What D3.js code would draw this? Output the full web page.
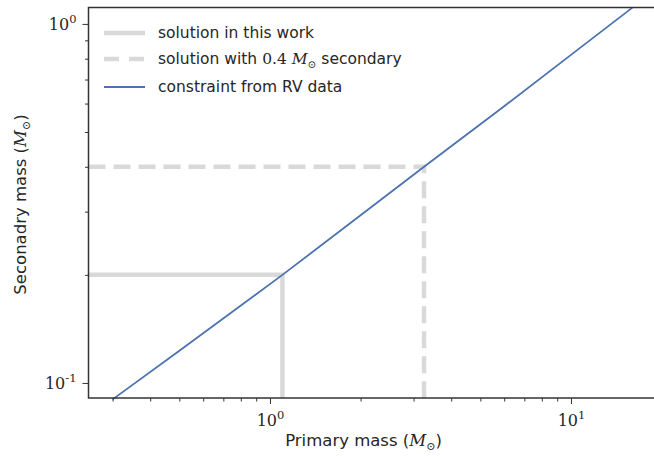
<!DOCTYPE html>
<html>
<head>
<meta charset="utf-8">
<script src="https://cdn.jsdelivr.net/npm/d3@7"></script>
<style>
  body { margin: 0; background: #fff; }
  svg { display: block; }
  .sans { font-family: "DejaVu Sans", sans-serif; }
  .math { font-family: "DejaVu Serif", "Liberation Serif", serif; }
</style>
</head>
<body>
<svg width="654" height="456"></svg>
<script>
// data
const rvPrimary   = [0.3, 0.5, 1.1, 2.0, 3.25, 6.0, 10.0, 16.0];
const rvSecondary = [0.09, 0.123, 0.2, 0.293, 0.4, 0.59, 0.82, 1.11];
const solThisWork = { primary: 1.1, secondary: 0.2 };
const solAlt      = { primary: 3.25, secondary: 0.4 };
const xDomain = [0.2495, 19.76];
const yDomain = [0.0908, 1.111];
const xMajor = [1, 10];
const yMajor = [0.1, 1];
const legendLabels = ["solution in this work", "solution with", "constraint from RV data"];

const svg = d3.select("svg");
const margin = { top: 7.5, right: -6, bottom: 58, left: 88.5 };
const width = +svg.attr("width") - margin.left - margin.right;
const height = +svg.attr("height") - margin.top - margin.bottom;

const x = d3.scaleLog().domain(xDomain).range([0, width]);
const y = d3.scaleLog().domain(yDomain).range([height, 0]);

const g = svg.append("g").attr("transform", `translate(${margin.left},${margin.top})`);

const gray = "#d9d9d9";
const blue = "#4c72b0";

// solution lines
const plot = g.append("g");
function drawSolution(s, dashed) {
  const pts = [[x.invert(0), s.secondary], [s.primary, s.secondary], [s.primary, y.invert(height)]];
  plot.append("path")
    .attr("d", d3.line().x(d => x(d[0])).y(d => y(d[1]))(pts))
    .attr("fill", "none")
    .attr("stroke", gray)
    .attr("stroke-width", 4.5)
    .attr("stroke-dasharray", dashed ? "17,8" : null);
}
drawSolution(solThisWork, false);
drawSolution(solAlt, true);

// RV constraint
plot.append("path")
  .datum(d3.zip(rvPrimary, rvSecondary))
  .attr("d", d3.line().x(d => x(d[0])).y(d => y(d[1])))
  .attr("fill", "none")
  .attr("stroke", blue)
  .attr("stroke-width", 1.8);

// axes
function minorTicks(scale) {
  const [a, b] = scale.domain();
  const out = [];
  for (let e = Math.floor(Math.log10(a)); e <= Math.ceil(Math.log10(b)); e++) {
    for (let k = 2; k <= 9; k++) {
      const v = k * Math.pow(10, e);
      if (v >= a && v <= b) out.push(v);
    }
  }
  return out;
}
function supLabel(sel) {
  sel.each(function(d) {
    const t = d3.select(this).text(null).attr("class", "math").attr("font-size", 16).attr("fill", "#262626");
    t.append("tspan").text("10");
    t.append("tspan").attr("dy", -7).attr("font-size", 11.5).text(Math.round(Math.log10(d)));
  });
}

const xAxis = g.append("g").attr("transform", `translate(0,${height})`)
  .call(d3.axisBottom(x).tickValues(xMajor).tickSize(6).tickPadding(6).tickSizeOuter(0));
g.append("g").attr("transform", `translate(0,${height})`)
  .call(d3.axisBottom(x).tickValues(minorTicks(x)).tickSize(3.5).tickFormat("").tickSizeOuter(0))
  .select(".domain").remove();
const yAxis = g.append("g")
  .call(d3.axisLeft(y).tickValues(yMajor).tickSize(6).tickPadding(6).tickSizeOuter(0));
g.append("g")
  .call(d3.axisLeft(y).tickValues(minorTicks(y)).tickSize(3.5).tickFormat("").tickSizeOuter(0))
  .select(".domain").remove();

xAxis.selectAll(".tick text").call(supLabel).attr("dy", "1em");
yAxis.selectAll(".tick text").call(supLabel).attr("dy", "0.35em");

g.selectAll(".tick line").attr("stroke", "#333").attr("stroke-width", 1);
g.selectAll(".domain").remove();

// frame
g.append("rect")
  .attr("width", width).attr("height", height)
  .attr("fill", "none").attr("stroke", "#333").attr("stroke-width", 1.5);

// axis labels
const xl = svg.append("text")
  .attr("x", margin.left + 275).attr("y", 446)
  .attr("text-anchor", "middle").attr("font-size", 16.5).attr("fill", "#262626");
xl.append("tspan").attr("class", "sans").text("Primary mass (");
xl.append("tspan").attr("class", "math").attr("font-style", "italic").text("M");
xl.append("tspan").attr("class", "math").attr("font-size", 11).attr("dy", 4).text("⊙");
xl.append("tspan").attr("class", "sans").attr("dy", -4).text(")");

const yl = svg.append("text")
  .attr("transform", `translate(26,${margin.top + 197}) rotate(-90)`)
  .attr("text-anchor", "middle").attr("font-size", 16.5).attr("fill", "#262626");
yl.append("tspan").attr("class", "sans").text("Seconadry mass (");
yl.append("tspan").attr("class", "math").attr("font-style", "italic").text("M");
yl.append("tspan").attr("class", "math").attr("font-size", 11).attr("dy", 4).text("⊙");
yl.append("tspan").attr("class", "sans").attr("dy", -4).text(")");

// legend
const legend = svg.append("g");
const rows = [
  { y: 33, stroke: gray, w: 4.5, dash: null },
  { y: 59, stroke: gray, w: 4.5, dash: "15,10" },
  { y: 87, stroke: blue, w: 1.8, dash: null }
];
rows.forEach((r, i) => {
  legend.append("line")
    .attr("x1", 104).attr("x2", 145).attr("y1", r.y).attr("y2", r.y)
    .attr("stroke", r.stroke).attr("stroke-width", r.w).attr("stroke-dasharray", r.dash);
  const t = legend.append("text")
    .attr("x", 158).attr("y", r.y + 5)
    .attr("font-size", 15.5).attr("fill", "#262626");
  t.append("tspan").attr("class", "sans").text(legendLabels[i]);
  if (i === 1) {
    t.append("tspan").attr("class", "math").text(" 0.4 ");
    t.append("tspan").attr("class", "math").attr("font-style", "italic").text("M");
    t.append("tspan").attr("class", "math").attr("font-size", 10.5).attr("dy", 4).text("⊙");
    t.append("tspan").attr("class", "sans").attr("dy", -4).text(" secondary");
  }
});
</script>
</body>
</html>
